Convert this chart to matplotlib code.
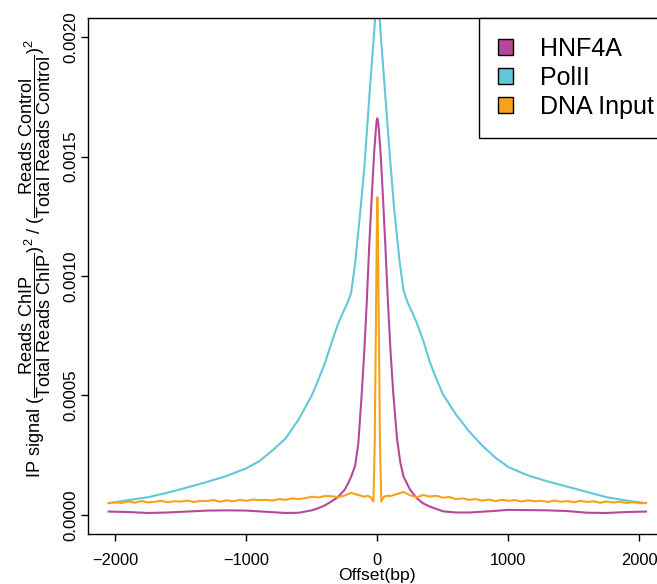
import numpy as np
import matplotlib.pyplot as plt
from matplotlib.patches import Patch

plt.rcParams['font.family'] = ['Liberation Sans', 'DejaVu Sans']
plt.rcParams['mathtext.fontset'] = 'custom'
plt.rcParams['mathtext.rm'] = 'Liberation Sans'
plt.rcParams['mathtext.it'] = 'Liberation Sans:italic'
plt.rcParams['mathtext.bf'] = 'Liberation Sans:bold'

unit = 1e-5  # signal values below are stored in units of 1e-5

# PolII profile
pol_offset = [-2050, -1900, -1750, -1600, -1450, -1300, -1150, -1000, -900, -800,
              -700, -600, -500, -450, -400, -350, -300, -260, -230, -200, -170,
              -130, -100, -60, -30, 0, 30, 60, 100, 130, 170, 200, 230, 260, 300,
              350, 400, 450, 500, 600, 700, 800, 900, 1000, 1150, 1300, 1450,
              1600, 1750, 1900, 2050]
pol_signal = [4.9, 6.2, 7.4, 9.3, 11.5, 13.8, 16.3, 19.5, 22.5, 27.0,
              32.0, 40.0, 50.0, 56.6, 63.5, 72.0, 80.0, 85.0, 88.5, 93.0, 105.0,
              127.0, 145.0, 176.0, 198.0, 221.0, 198.0, 176.0, 147.0, 127.0, 106.0, 94.0, 89.0, 85.5, 80.5,
              73.0, 64.0, 57.0, 50.5, 42.0, 35.0, 29.0, 24.0, 20.0, 16.5, 14.0,
              11.8, 9.6, 7.4, 6.0, 4.9]

# HNF4A profile
hnf_offset = [-2050, -1900, -1750, -1600, -1450, -1300, -1150, -1000, -850, -700,
              -600, -500, -450, -400, -350, -300, -250, -220, -200, -170, -145,
              -120, -100, -80, -60, -40, -25, -12, -5, 0, 5, 12, 25, 40, 60, 80,
              100, 120, 150, 175, 200, 250, 300, 350, 400, 500, 600, 700, 850,
              1000, 1150, 1300, 1450, 1600, 1750, 1900, 2050]
hnf_signal = [1.4, 1.2, 0.8, 1.0, 1.4, 1.8, 1.9, 1.8, 1.3, 0.8,
              0.9, 1.9, 2.8, 4.0, 5.6, 7.5, 10.5, 13.5, 16.0, 20.5, 30.0,
              50.0, 68.0, 90.0, 115.0, 136.0, 151.0, 161.0, 165.0, 166.0, 165.0, 161.0, 151.0, 136.0, 114.0, 90.0,
              69.0, 52.0, 32.0, 22.0, 16.0, 10.5, 7.0, 4.8, 3.5, 1.5, 1.0, 1.0, 1.5,
              2.1, 2.0, 1.9, 1.6, 0.9, 0.8, 1.2, 1.4]

# DNA input profile
dna_offset = [-2050, -2000, -1950, -1900, -1850, -1800, -1750, -1700, -1650, -1600,
              -1550, -1500, -1450, -1400, -1350, -1300, -1250, -1200, -1150, -1100,
              -1050, -1000, -950, -900, -850, -800, -750, -700, -650, -600,
              -550, -500, -450, -400, -350, -300, -250, -200, -150, -100,
              -75, -50, -30, -20, -10, -3, 0, 3, 10, 20, 30, 50, 75,
              100, 150, 200, 250, 300, 350, 400, 450, 500, 550,
              600, 650, 700, 750, 800, 850, 900, 950, 1000, 1050,
              1100, 1150, 1200, 1250, 1300, 1350, 1400, 1450, 1500, 1550,
              1600, 1650, 1700, 1750, 1800, 1850, 1900, 1950, 2000, 2050]
dna_signal = [5.0, 5.2, 5.0, 5.6, 5.1, 5.8, 5.2, 5.5, 5.9, 5.3,
              5.7, 5.6, 6.0, 5.4, 5.9, 5.8, 6.2, 5.5, 6.1, 5.7,
              6.3, 5.9, 6.4, 6.2, 6.3, 6.0, 6.6, 6.3, 6.9, 6.6,
              7.0, 7.6, 7.3, 7.9, 7.8, 7.4, 8.1, 9.2, 8.4, 7.6,
              8.0, 7.4, 5.6, 30.0, 85.0, 125.0, 133.0, 125.0, 85.0, 30.0, 5.6, 7.6, 8.0,
              7.9, 8.7, 9.6, 8.2, 7.4, 8.3, 7.7, 8.0, 7.2, 7.5,
              6.6, 6.9, 6.3, 6.6, 6.0, 6.4, 5.8, 6.3, 5.9, 6.2,
              5.6, 6.1, 5.7, 5.9, 5.4, 6.0, 5.5, 5.8, 5.3, 5.9,
              5.4, 5.7, 5.1, 5.6, 5.2, 5.5, 5.0, 5.3, 4.9, 5.0]

labels = ['HNF4A', 'PolII', 'DNA Input']
colors = ['#B5489B', '#62C8D8', '#F7A21B']

x_ticks = [-2000, -1000, 0, 1000, 2000]
y_ticks = [0.0, 0.0005, 0.0010, 0.0015, 0.0020]

fig = plt.figure(figsize=(6.57, 5.84), dpi=100)
# right edge of the box runs past the figure, as in the cropped original
ax = fig.add_axes([87.7 / 657, 1 - 534 / 584, 579.3 / 657, 516 / 584])

ax.plot(pol_offset, np.array(pol_signal) * unit, color=colors[1], lw=1.5)
ax.plot(hnf_offset, np.array(hnf_signal) * unit, color=colors[0], lw=1.5)
ax.plot(dna_offset, np.array(dna_signal) * unit, color=colors[2], lw=1.5)

ax.set_xlim(-2210, 2210)
ax.set_ylim(-0.00008, 0.00208)
ax.set_xticks(x_ticks)
ax.set_yticks(y_ticks)
ax.set_yticklabels(['%.4f' % v for v in y_ticks], rotation=90, va='center')
ax.tick_params(direction='out', length=5, width=1)
ax.tick_params(axis='x', pad=8.5, labelsize=11.8)
ax.tick_params(axis='y', pad=1.5, labelsize=12.2)
for s in ax.spines.values():
    s.set_linewidth(1)

ax.set_xlabel('Offset(bp)', fontsize=12.6, labelpad=0)

ylab = (r'$\mathrm{IP\ signal}\ (\dfrac{\mathrm{Reads\ ChIP}}{\mathrm{Total\ Reads\ ChIP}})^2'
        r'\ /\ (\dfrac{\mathrm{Reads\ Control}}{\mathrm{Total\ Reads\ Control}})^2$')
fig.text(35 / 657, 1 - 259 / 584, ylab, rotation=90, ha='center', va='center', fontsize=13.1)

handles = [Patch(facecolor=c, edgecolor='black', linewidth=1) for c in colors]
leg = ax.legend(handles, labels, loc='upper right', bbox_to_anchor=(1.0099, 1),
                borderaxespad=0, fontsize=18, frameon=True, fancybox=False,
                framealpha=1, edgecolor='black', handlelength=0.6,
                handleheight=0.6, handletextpad=1.09, labelspacing=0.2,
                borderpad=0.75)
leg.get_frame().set_linewidth(1)

fig.savefig('out.png', dpi=100)
